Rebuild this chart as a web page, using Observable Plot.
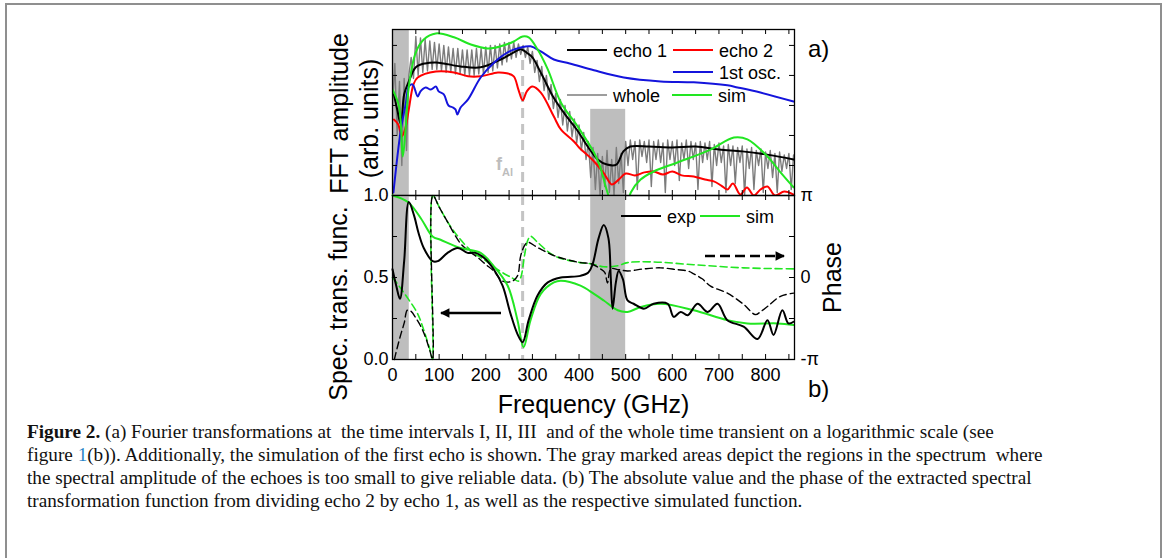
<!DOCTYPE html>
<html><head><meta charset="utf-8">
<script src="https://cdn.jsdelivr.net/npm/d3@7"></script>
<script src="https://cdn.jsdelivr.net/npm/@observablehq/plot@0.6"></script>
<style>
html,body{margin:0;padding:0;background:#fff;}
#wrap{position:relative;width:1168px;height:558px;overflow:hidden;}
#border{position:absolute;left:5px;top:3px;width:1157px;height:620px;border:2px solid #8f8f8f;box-sizing:border-box;}
#top,#bottom,#overlay{position:absolute;left:0;}
#top{top:0;} #bottom{top:195px;} #overlay{top:0;pointer-events:none;}
#caption{position:absolute;left:27px;top:420px;font-family:"Liberation Serif","Times New Roman",serif;font-size:19.2px;line-height:23px;color:#111;white-space:pre;}
#caption b{font-weight:bold;}
#caption .ref{color:#2a86c8;}
</style></head>
<body><div id="wrap"><div id="border"></div><div id="top"></div><div id="bottom"></div><svg id="overlay" width="1168" height="558"></svg>
<div id="caption"><div><b>Figure 2.</b> (a) Fourier transformations at  the time intervals I, II, III  and of the whole time transient on a logarithmic scale (see</div><div>figure <span class="ref">1</span>(b)). Additionally, the simulation of the first echo is shown. The gray marked areas depict the regions in the spectrum  where</div><div>the spectral amplitude of the echoes is too small to give reliable data. (b) The absolute value and the phase of the extracted spectral</div><div>transformation function from dividing echo 2 by echo 1, as well as the respective simulated function.</div></div>
</div>
<script>
// ---------- data (frequency in GHz) ----------
// top panel: FFT amplitude, stored as log10(amplitude, arb. units)
const echo1 = [[3,3.37],[10,2.87],[18,2.37],[25,3.37],[35,3.8],[50,4.27],[70,4.4],[93,4.43],[110,4.4],[146,4.3],[189,4.27],[232,4.53],[260,4.77],[275,4.87],[290,4.73],[300,4.6],[320,4.03],[345,3.27],[370,2.7],[395,2.2],[420,1.6],[440,1.2],[460,1.03],[480,1.03],[495,1.47],[510,1.63],[550,1.63],[600,1.6],[650,1.63],[700,1.53],[750,1.47],[800,1.37],[860,1.2]];
const echo2 = [[3,2.53],[12,2.37],[20,1.97],[28,2.27],[35,2.87],[45,3.7],[54,3.93],[93,4.13],[132,4.1],[162,3.97],[189,3.97],[226,4.1],[245,4.07],[260,3.97],[270,3.53],[279,3.17],[288,3.47],[300,3.63],[318,3.43],[346,2.63],[361,2.2],[389,1.8],[400,1.6],[425,1.25],[440,1.0],[455,0.7],[470,0.37],[485,0.53],[500,0.73],[520,0.67],[540,0.77],[560,0.8],[580,0.7],[600,0.8],[620,0.67],[646,0.63],[670,0.53],[689,0.47],[705,0.33],[718,0.2],[730,0.4],[746,0.03],[760,0.27],[775,0.0],[789,0.2],[804,0.3],[820,0.0],[840,0.13],[860,0.03]];
const osc1 = [[2,0.1],[18,2.2],[29,3.1],[35,3.63],[43,3.7],[54,3.3],[60,3.47],[71,3.6],[82,3.53],[93,3.63],[99,3.47],[110,3.37],[120,3.0],[130,2.93],[135,2.87],[139,2.7],[146,2.93],[162,3.2],[189,3.93],[218,4.43],[247,4.77],[275,4.93],[296,4.97],[318,4.8],[346,4.53],[380,4.4],[432,4.17],[496,3.93],[575,3.8],[646,3.77],[718,3.67],[740,3.6],[789,3.43],[860,3.13]];
const simTop = [[0,3.53],[14,2.97],[22,1.3],[28,2.2],[35,3.63],[50,4.77],[67,5.2],[93,5.4],[132,5.27],[168,5.03],[204,4.9],[232,4.97],[260,5.13],[279,5.3],[292,5.27],[311,4.87],[333,4.2],[361,3.1],[397,2.3],[432,1.43],[445,0.97],[453,0.53],[461,0.1],[475,-0.5],[500,-0.5],[511,0.1],[532,0.53],[560,0.8],[611,1.1],[682,1.53],[732,1.93],[761,1.87],[804,1.3],[832,0.77],[860,0.27]];
// whole transient, sampled every 5 GHz from 0 to 860 GHz
const wholeStep = 5;
const wholeValues = [
 3.0,4.4,2.0,3.8,1.0,3.9,1.5,4.0,4.6,3.9,
 5.3,4.0,5.25,4.1,5.2,4.15,5.15,4.2,5.1,4.2,
 5.05,4.15,5.0,4.1,4.95,4.1,4.9,4.05,4.9,4.05,
 4.85,4.0,4.85,4.0,4.85,4.0,4.9,4.05,4.9,4.05,
 4.95,4.1,5.0,4.15,5.0,4.25,5.05,4.35,5.1,4.45,
 5.1,4.55,5.1,4.6,5.05,4.7,5.0,4.6,4.95,4.4,
 4.8,4.1,4.5,3.8,4.3,3.5,4.0,3.2,3.7,2.9,
 3.4,2.6,3.2,2.35,3.0,2.15,2.8,1.95,2.55,1.75,
 2.35,1.5,2.1,1.2,1.8,0.6,1.6,0.2,1.4,0.0,
 1.3,0.3,1.5,0.1,1.2,0.0,1.6,0.4,1.4,0.1,
 1.8,1.0,1.85,1.2,1.8,0.2,1.85,1.3,1.8,1.1,
 1.85,0.3,1.8,1.2,1.85,1.1,1.75,0.1,1.85,1.2,
 1.8,1.0,1.85,0.5,1.75,1.2,1.85,0.9,1.8,1.2,
 1.75,0.2,1.8,1.1,1.75,1.2,1.8,0.3,1.7,1.0,
 1.75,1.1,1.65,0.1,1.7,1.0,1.65,0.4,1.6,1.1,
 1.65,0.0,1.55,0.9,1.6,0.2,1.5,1.0,1.55,0.1,
 1.45,0.9,1.5,0.6,1.4,0.1,1.45,0.8,1.35,0.9,
 1.4,0.2,1.35];
// bottom panel: spectral transformation function (absolute value) and phase (rad)
const expAmp = [[0,0.55],[8,0.45],[16,0.37],[25,0.6],[35,0.96],[46,0.88],[56,0.77],[67,0.68],[86,0.6],[97,0.6],[118,0.65],[140,0.68],[161,0.65],[178,0.65],[196,0.62],[217,0.55],[236,0.45],[253,0.28],[268,0.155],[279,0.105],[292,0.24],[311,0.39],[333,0.47],[361,0.5],[403,0.51],[420,0.53],[429,0.58],[442,0.74],[453,0.82],[463,0.74],[468,0.5],[472,0.31],[479,0.47],[485,0.54],[494,0.49],[504,0.36],[517,0.34],[539,0.31],[560,0.34],[590,0.34],[603,0.26],[618,0.29],[633,0.27],[654,0.34],[676,0.29],[697,0.34],[718,0.24],[753,0.2],[783,0.125],[804,0.24],[817,0.15],[836,0.3],[849,0.22],[860,0.23]];
const simAmp = [[0,1.0],[33,0.96],[61,0.86],[86,0.75],[103,0.73],[146,0.68],[189,0.65],[217,0.57],[247,0.45],[268,0.24],[281,0.075],[296,0.24],[318,0.4],[346,0.47],[361,0.48],[403,0.45],[432,0.4],[453,0.36],[483,0.3],[504,0.29],[532,0.32],[575,0.34],[646,0.3],[718,0.24],[761,0.22],[826,0.22],[860,0.21]];
const expPhase = [[4,-3.14],[10,-2.7],[18,-2.17],[25,-1.75],[32,-1.25],[40,-1.3],[50,-1.55],[60,-1.85],[70,-2.25],[80,-2.8],[86,-3.14],[86.5,3.14],[100,2.7],[118,2.13],[146,1.3],[165,1.0],[183,0.76],[200,0.5],[217,0.25],[236,-0.14],[257,-0.14],[268,0.06],[275,0.84],[284,1.25],[290,1.35],[311,1.15],[346,0.84],[403,0.57],[425,0.53],[446,0.33],[455,0.2],[461,-0.21],[468,0.33],[485,0.3],[504,0.25],[539,0.33],[575,0.37],[610,0.3],[633,0.25],[646,0.14],[664,-0.05],[682,-0.33],[718,-0.6],[753,-1.03],[778,-1.42],[790,-1.3],[804,-1.11],[832,-0.72],[860,-0.6]];
const simPhase = [[0,0.0],[15,-0.35],[33,-0.8],[54,-1.39],[67,-2.01],[82,-2.87],[86,-3.14],[86.5,3.14],[100,2.71],[118,2.13],[140,1.58],[168,1.03],[200,0.64],[230,0.25],[255,0.0],[270,-0.14],[276,0.06],[283,0.84],[290,1.42],[296,1.58],[311,1.35],[346,0.84],[403,0.57],[425,0.53],[453,0.41],[483,0.45],[504,0.57],[554,0.6],[646,0.49],[753,0.37],[860,0.33]];
// unreliable regions (GHz) and their top extent in panel a) (log10 amplitude)
const unreliableFrom = [0, 425];
const unreliableTo = [36, 500];
const unreliableTopA = [5.53, 2.87];
const fAl = 279;
const xTickLabels = [0, 100, 200, 300, 400, 500, 600, 700, 800];
const xTickMarks = [50,100,150,200,250,300,350,400,450,500,550,600,650,700,750,800,850];
const topDecades = [1, 2, 3, 4, 5];

// ---------- style ----------
const FONT = "'Liberation Sans', Arial, Helvetica, sans-serif";
const SHADE = "#bebebe", GRAY = "#7c7c7c", RED = "#ff0000", BLUE = "#1414dc", GREEN = "#22e622", DASHGRAY = "#c4c4c4";
const L = 392, R = 794, W = R - L;
const xDomain = [0, 862];
const toRows = a => a.map(([f, v]) => ({f, v}));
const regions = unreliableFrom.map((a, i) => ({from: a, to: unreliableTo[i], topA: unreliableTopA[i]}));
const whole = wholeValues.map((v, i) => ({f: i * wholeStep, v}));
const phaseUnit = d3.scaleLinear([-Math.PI, Math.PI], [0, 1]);
const title = {fontSize: 25, fill: "black", textAnchor: "middle", lineAnchor: "middle"};

const H1 = 195 - 29;
const topPlot = Plot.plot({
  width: 1168, height: 195, marginLeft: L, marginRight: 1168 - R, marginTop: 29, marginBottom: 0,
  x: {domain: xDomain, axis: null},
  y: {domain: [0, 5.53], axis: null},
  style: {fontFamily: FONT, overflow: "visible", background: "transparent", color: "black"},
  marks: [
    Plot.rect(regions, {x1: "from", x2: "to", y1: () => 0, y2: "topA", fill: SHADE}),
    Plot.ruleX([fAl], {y1: 4.5, y2: 0, stroke: DASHGRAY, strokeWidth: 3, strokeDasharray: "10,6"}),
    Plot.line(whole, {x: "f", y: "v", stroke: GRAY, strokeWidth: 1.4, clip: true}),
    Plot.line(toRows(echo2), {x: "f", y: "v", stroke: RED, strokeWidth: 2, clip: true, curve: "catmull-rom"}),
    Plot.line(toRows(echo1), {x: "f", y: "v", stroke: "black", strokeWidth: 2, clip: true, curve: "catmull-rom"}),
    Plot.line(toRows(osc1), {x: "f", y: "v", stroke: BLUE, strokeWidth: 2, clip: true, curve: "catmull-rom"}),
    Plot.line(toRows(simTop), {x: "f", y: "v", stroke: GREEN, strokeWidth: 2, clip: true, curve: "catmull-rom"}),
    Plot.frame({stroke: "black", strokeWidth: 1.3}),
    Plot.tickX(xTickMarks, {insetTop: H1 - 5, stroke: "black"}),
    Plot.tickX(xTickMarks, {insetBottom: H1 - 5, stroke: "black"}),
    Plot.tickY(topDecades, {insetRight: W - 5, stroke: "black"}),
    Plot.tickY(topDecades, {insetLeft: W - 5, stroke: "black"}),
    Plot.text(["FFT amplitude"], {frameAnchor: "left", rotate: -90, dx: -53, dy: 1, ...title}),
    Plot.text(["(arb. units)"], {frameAnchor: "left", rotate: -90, dx: -23, dy: 6, ...title})
  ]
});
document.getElementById("top").appendChild(topPlot);

const H2 = 164;
const bottomPlot = Plot.plot({
  width: 1168, height: 230, marginLeft: L, marginRight: 1168 - R, marginTop: 0, marginBottom: 230 - H2,
  x: {domain: xDomain, axis: null},
  y: {domain: [0, 1], axis: null},
  style: {fontFamily: FONT, overflow: "visible", background: "transparent", color: "black"},
  marks: [
    Plot.rect(regions, {x1: "from", x2: "to", y1: () => 0, y2: () => 1, fill: SHADE}),
    Plot.ruleX([fAl], {stroke: DASHGRAY, strokeWidth: 3, strokeDasharray: "10,6"}),
    Plot.line(toRows(simPhase), {x: "f", y: d => phaseUnit(d.v), stroke: GREEN, strokeWidth: 1.6, strokeDasharray: "7,4", curve: "catmull-rom"}),
    Plot.line(toRows(expPhase), {x: "f", y: d => phaseUnit(d.v), stroke: "black", strokeWidth: 1.4, strokeDasharray: "7,4", curve: "catmull-rom"}),
    Plot.line(toRows(simAmp), {x: "f", y: "v", stroke: GREEN, strokeWidth: 2, curve: "catmull-rom"}),
    Plot.line(toRows(expAmp), {x: "f", y: "v", stroke: "black", strokeWidth: 2, curve: "catmull-rom"}),
    Plot.frame({stroke: "black", strokeWidth: 1.3}),
    Plot.tickX(xTickMarks, {insetTop: H2 - 5, stroke: "black"}),
    Plot.tickX(xTickMarks, {insetBottom: H2 - 5, stroke: "black"}),
    Plot.tickY([0.25, 0.5, 0.75], {insetRight: W - 5, stroke: "black"}),
    Plot.tickY([0.25, 0.5, 0.75], {insetLeft: W - 5, stroke: "black"}),
    Plot.axisX({ticks: xTickLabels, tickSize: 0, tickPadding: 9, fontSize: 18, label: null, tickFormat: d => String(d)}),
    Plot.axisY({ticks: [0, 0.5, 1], tickSize: 0, tickPadding: 4, fontSize: 18, label: null, tickFormat: d3.format(".1f")}),
    Plot.axisY({anchor: "right", ticks: [0, 0.5, 1], tickSize: 0, tickPadding: 6, fontSize: 18, label: null, tickFormat: d => d === 1 ? "π" : d === 0 ? "-π" : "0"}),
    Plot.text(["Frequency (GHz)"], {frameAnchor: "bottom", dy: 45, ...title}),
    Plot.text(["Spec. trans. func."], {frameAnchor: "left", rotate: -90, dx: -54, dy: 26, ...title}),
    Plot.text(["Phase"], {frameAnchor: "right", rotate: -90, dx: 38, dy: 0, ...title})
  ]
});
document.getElementById("bottom").appendChild(bottomPlot);

// ---------- legends & annotations (overlay) ----------
const ov = d3.select("#overlay").style("font-family", FONT);
const defs = ov.append("defs");
defs.append("marker").attr("id", "head").attr("viewBox", "0 0 10 10").attr("refX", 9).attr("refY", 5)
  .attr("markerWidth", 4.5).attr("markerHeight", 3.6).attr("markerUnits", "strokeWidth").attr("orient", "auto")
  .append("path").attr("d", "M0,0L10,5L0,10Z").attr("fill", "black");
const legendItems = [
  {x: 567, y: 50, c: "black", w: 2, t: "echo 1"},
  {x: 673, y: 50, c: RED, w: 2, t: "echo 2"},
  {x: 673, y: 72, c: BLUE, w: 2, t: "1st osc."},
  {x: 567, y: 95, c: GRAY, w: 1.4, t: "whole"},
  {x: 672, y: 95, c: GREEN, w: 2, t: "sim"},
  {x: 621, y: 216, c: "black", w: 2, t: "exp"},
  {x: 700, y: 216, c: GREEN, w: 2, t: "sim"}
];
for (const e of legendItems) {
  ov.append("line").attr("x1", e.x).attr("x2", e.x + 40).attr("y1", e.y).attr("y2", e.y).attr("stroke", e.c).attr("stroke-width", e.w);
  ov.append("text").attr("x", e.x + 46).attr("y", e.y + 6.5).attr("font-size", 18).text(e.t);
}
ov.append("text").attr("x", 808).attr("y", 57).attr("font-size", 24).text("a)");
ov.append("text").attr("x", 808).attr("y", 397).attr("font-size", 24).text("b)");
ov.append("line").attr("x1", 501).attr("y1", 313).attr("x2", 441).attr("y2", 313).attr("stroke", "black").attr("stroke-width", 2.6).attr("marker-end", "url(#head)");
ov.append("line").attr("x1", 705).attr("y1", 256).attr("x2", 784).attr("y2", 256).attr("stroke", "black").attr("stroke-width", 2.6).attr("stroke-dasharray", "10,5").attr("marker-end", "url(#head)");
const fal = ov.append("text").attr("x", 496).attr("y", 170).attr("fill", "#bdbdbd").attr("font-weight", "bold").attr("font-size", 18);
fal.append("tspan").text("f");
fal.append("tspan").attr("font-size", 11).attr("dy", 6).text("Al");
</script>
</body></html>
